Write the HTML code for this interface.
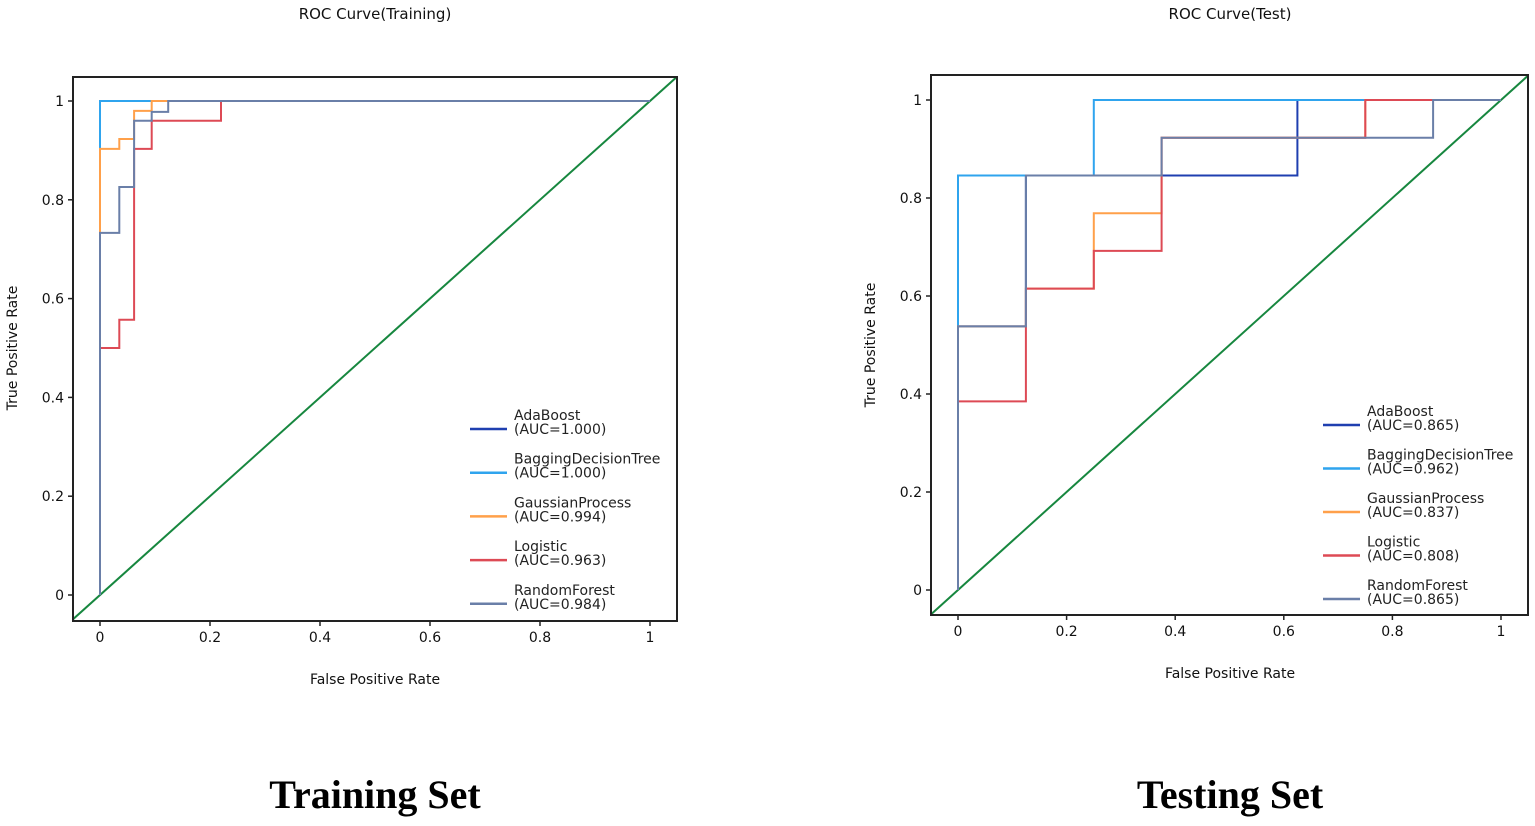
<!DOCTYPE html>
<html><head><meta charset="utf-8"><style>
body{margin:0;background:#fff;width:1535px;height:821px;overflow:hidden}
svg{font-family:"DejaVu Sans","Liberation Sans",sans-serif}
</style></head><body>
<svg id="svg" width="1535" height="821" xmlns="http://www.w3.org/2000/svg"></svg>
<script>
// ---- data ----
const seriesNames = ["AdaBoost","BaggingDecisionTree","GaussianProcess","Logistic","RandomForest"];
const seriesColors = ["#1f3fb0","#2fa4ee","#ffa04a","#dd4a55","#6a7fa8"];
const trainAUC = ["1.000","1.000","0.994","0.963","0.984"];
const testAUC = ["0.865","0.962","0.837","0.808","0.865"];
// training curves: step points [fpr, tpr]
const trainAda = [[0,0],[0,1],[1,1]];
const trainBag = [[0,0],[0,1],[1,1]];
const trainGau = [[0,0],[0,0.733],[0,0.903],[0.035,0.903],[0.035,0.923],[0.062,0.923],[0.062,0.98],[0.094,0.98],[0.094,1],[1,1]];
const trainLog = [[0,0],[0,0.5],[0.035,0.5],[0.035,0.557],[0.062,0.557],[0.062,0.903],[0.094,0.903],[0.094,0.96],[0.22,0.96],[0.22,1],[1,1]];
const trainRF = [[0,0],[0,0.733],[0.035,0.733],[0.035,0.826],[0.062,0.826],[0.062,0.96],[0.094,0.96],[0.094,0.978],[0.124,0.978],[0.124,1],[1,1]];
const testAda = [[0,0],[0,0.538],[0.125,0.538],[0.125,0.846],[0.625,0.846],[0.625,1],[1,1]];
const testBag = [[0,0],[0,0.846],[0.25,0.846],[0.25,1],[1,1]];
const testGau = [[0,0],[0,0.538],[0.125,0.538],[0.125,0.615],[0.25,0.615],[0.25,0.769],[0.375,0.769],[0.375,0.923],[0.75,0.923],[0.75,1],[1,1]];
const testLog = [[0,0],[0,0.385],[0.125,0.385],[0.125,0.615],[0.25,0.615],[0.25,0.692],[0.375,0.692],[0.375,0.923],[0.75,0.923],[0.75,1],[1,1]];
const testRF = [[0,0],[0,0.538],[0.125,0.538],[0.125,0.846],[0.375,0.846],[0.375,0.923],[0.875,0.923],[0.875,1],[1,1]];
const tickValues = [0,0.2,0.4,0.6,0.8,1];
const tickLabels = ["0","0.2","0.4","0.6","0.8","1"];

const NS="http://www.w3.org/2000/svg";
const svg=document.getElementById('svg');
function mk(tag,attrs,parent){const e=document.createElementNS(NS,tag);for(const k in attrs)e.setAttribute(k,attrs[k]);(parent||svg).appendChild(e);return e;}

function panel(cfg){
  const g=mk('g',{});
  
  
  const sx=v=>cfg.x0+v*(cfg.x1-cfg.x0);
  const sy=v=>cfg.y0+v*(cfg.y1-cfg.y0);
  const t=mk('text',{x:cfg.cx,y:cfg.titleY,'text-anchor':'middle','font-size':15,fill:'#111'},g);
  t.textContent=cfg.title;
  
  
  const clipId='clip'+cfg.key;
  const cp=mk('clipPath',{id:clipId},g);
  mk('rect',{x:cfg.bx0,y:cfg.by0,width:cfg.bx1-cfg.bx0,height:cfg.by1-cfg.by0},cp);
  const cg=mk('g',{'clip-path':'url(#'+clipId+')'},g);
  const diag=mk('line',{x1:sx(-0.1),y1:sy(-0.1),x2:sx(1.1),y2:sy(1.1),stroke:'#17873f','stroke-width':2},cg);
  
  
  const order=[0,1,2,3,4];
  order.forEach(i=>{
    const pts=cfg.curves[i].map(p=>sx(p[0]).toFixed(1)+','+sy(p[1]).toFixed(1)).join(' ');
    const pl=mk('polyline',{points:pts,fill:'none',stroke:seriesColors[i],'stroke-width':2},cg);
    
    
  });
  const box=mk('rect',{x:cfg.bx0,y:cfg.by0,width:cfg.bx1-cfg.bx0,height:cfg.by1-cfg.by0,fill:'none',stroke:'#222','stroke-width':2},g);
  
  
  tickValues.forEach((v,i)=>{
    mk('line',{x1:sx(v),y1:cfg.by1,x2:sx(v),y2:cfg.by1+5,stroke:'#222','stroke-width':1.5},g);
    const xt=mk('text',{x:sx(v),y:cfg.by1+21,'text-anchor':'middle','font-size':14,fill:'#111'},g);
    xt.textContent=tickLabels[i];
    
    
    mk('line',{x1:cfg.bx0-5,y1:sy(v),x2:cfg.bx0,y2:sy(v),stroke:'#222','stroke-width':1.5},g);
    const yt=mk('text',{x:cfg.bx0-9,y:sy(v)+5,'text-anchor':'end','font-size':14,fill:'#111'},g);
    yt.textContent=tickLabels[i];
    
    
  });
  const xl=mk('text',{x:cfg.cx,y:cfg.xlabY,'text-anchor':'middle','font-size':14,fill:'#111'},g);
  xl.textContent='False Positive Rate';
  
  
  const yl=mk('text',{x:0,y:0,'text-anchor':'middle','font-size':14,fill:'#111',transform:'translate('+cfg.ylabX+','+cfg.ylabY+') rotate(-90)'},g);
  yl.textContent='True Positive Rate';
  
  
  seriesNames.forEach((n,i)=>{
    const y=cfg.legY+i*cfg.legStep;
    const lg=mk('g',{},g);
    
    
    mk('line',{x1:cfg.legX,y1:y+9,x2:cfg.legX+37,y2:y+9,stroke:seriesColors[i],'stroke-width':2.5},lg);
    const a=mk('text',{x:cfg.legX+44,y:y,'font-size':14,fill:'#222'},lg);a.textContent=n;
    const b=mk('text',{x:cfg.legX+44,y:y+14,'font-size':14,fill:'#222'},lg);b.textContent='(AUC='+cfg.auc[i]+')';
  });
  const bt=mk('text',{x:cfg.cx,y:808,'text-anchor':'middle','font-size':40,'font-weight':'bold',fill:'#000','font-family':'"Liberation Serif",serif'},g);
  bt.textContent=cfg.caption;
  
  
}
panel({key:'training',title:'ROC Curve(Training)',caption:'Training Set',cx:375,titleY:19,
  x0:100,x1:650,y0:595,y1:101,bx0:73,bx1:677,by0:77,by1:621,
  xlabY:684,ylabX:17,ylabY:348,legX:470,legY:420,legStep:43.7,auc:trainAUC,
  curves:[trainAda,trainBag,trainGau,trainLog,trainRF]});
panel({key:'test',title:'ROC Curve(Test)',caption:'Testing Set',cx:1230,titleY:19,
  x0:958,x1:1501,y0:590,y1:100,bx0:931,bx1:1528,by0:75,by1:615,
  xlabY:678,ylabX:875,ylabY:345,legX:1323,legY:416,legStep:43.5,auc:testAUC,
  curves:[testAda,testBag,testGau,testLog,testRF]});
</script>
</body></html>
